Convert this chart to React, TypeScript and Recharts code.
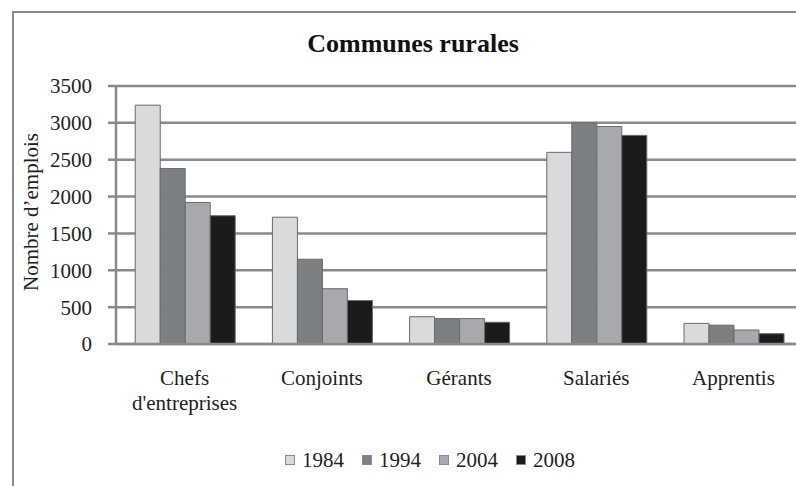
import React from "react";
import { BarChart, Bar, XAxis, YAxis, CartesianGrid } from "recharts";

const categories = ["Chefs\nd'entreprises", "Conjoints", "Gérants", "Salariés", "Apprentis"];
const years = ["1984", "1994", "2004", "2008"];
const v1984 = [3240, 1720, 370, 2600, 280];
const v1994 = [2380, 1150, 345, 3000, 255];
const v2004 = [1920, 750, 345, 2950, 190];
const v2008 = [1740, 590, 295, 2830, 140];
const yTicks = [0, 500, 1000, 1500, 2000, 2500, 3000, 3500];
const boundaryTicks = [0, 1, 2, 3, 4, 5];
const colors = ["#d9dadc", "#7d8083", "#a7a9ac", "#1b1b1b"];
const title = "Communes rurales";
const yLabel = "Nombre d’emplois";

const data = categories.map((name, i) => ({
  name,
  y1984: v1984[i],
  y1994: v1994[i],
  y2004: v2004[i],
  y2008: v2008[i],
}));
const seriesKeys = ["y1984", "y1994", "y2004", "y2008"];

const FONT = "'Liberation Serif', 'Times New Roman', serif";
const GRID = "#8a8a8a";

const CatTick = (props: any) => {
  const { x, y, payload } = props;
  const lines = String(payload.value).split("\n");
  return (
    <text x={x} y={y} textAnchor="middle" fontFamily={FONT} fontSize={21} fill="#222">
      {lines.map((l, i) => (
        <tspan key={i} x={x} dy={i === 0 ? 41 : 25}>
          {l}
        </tspan>
      ))}
    </text>
  );
};

export default function App() {
  return (
    <div style={{ position: "absolute", left: 0, top: 0, width: 796, height: 486, overflow: "hidden", background: "#fff" }}>
      <div
        style={{
          position: "absolute",
          left: 12,
          top: 11,
          width: 1000,
          height: 1000,
          borderLeft: `2px solid ${GRID}`,
          borderTop: `2px solid ${GRID}`,
        }}
      />
      <div style={{ position: "absolute", left: 0, top: 0 }}>
        <BarChart
          width={830}
          height={486}
          data={data}
          margin={{ top: 86, right: 28, bottom: 82, left: 0 }}
          barCategoryGap="14%"
          barGap={0}
        >
          <CartesianGrid vertical={false} stroke={GRID} strokeWidth={2.5} />
          <XAxis
            xAxisId="bounds"
            type="number"
            domain={[0, 5]}
            ticks={boundaryTicks}
            allowDataOverflow
            tick={false}
            axisLine={false}
            tickLine={{ stroke: GRID, strokeWidth: 2.5 }}
            tickSize={8}
            height={0}
          />
          <XAxis
            dataKey="name"
            interval={0}
            tickLine={false}
            tickSize={0}
            tickMargin={0}
            axisLine={{ stroke: GRID, strokeWidth: 2.5 }}
            height={60}
            tick={<CatTick />}
          />
          <YAxis
            width={116}
            domain={[0, 3500]}
            ticks={yTicks}
            interval={0}
            tickSize={8}
            tickMargin={16}
            axisLine={{ stroke: GRID, strokeWidth: 2.5 }}
            tickLine={{ stroke: GRID, strokeWidth: 2.5 }}
            tick={{ fontFamily: FONT, fontSize: 21, fill: "#222" }}
          />
          {seriesKeys.map((k, i) => (
            <Bar
              key={k}
              dataKey={k}
              name={years[i]}
              fill={colors[i]}
              stroke="#6a6a6a"
              strokeWidth={1}
              isAnimationActive={false}
            />
          ))}
        </BarChart>
      </div>
      <svg width={796} height={486} style={{ position: "absolute", left: 0, top: 0, pointerEvents: "none" }}>
        <text x={413} y={52} textAnchor="middle" fontFamily={FONT} fontSize={26} fontWeight="bold" fill="#111">
          {title}
        </text>
        <text
          x={0}
          y={0}
          transform="translate(38, 212) rotate(-90)"
          textAnchor="middle"
          fontFamily={FONT}
          fontSize={21}
          fill="#222"
        >
          {yLabel}
        </text>
      </svg>
      <div
        style={{
          position: "absolute",
          left: 285,
          top: 448,
          display: "flex",
          alignItems: "center",
          gap: 18,
          fontFamily: FONT,
          fontSize: 21,
          lineHeight: "24px",
          color: "#222",
        }}
      >
        {years.map((y, i) => (
          <div key={y} style={{ display: "flex", alignItems: "center" }}>
            <div
              style={{
                width: 10,
                height: 10,
                background: colors[i],
                border: "1px solid #8a8a8a",
                boxSizing: "border-box",
                marginRight: 7,
              }}
            />
            <span>{y}</span>
          </div>
        ))}
      </div>
    </div>
  );
}
